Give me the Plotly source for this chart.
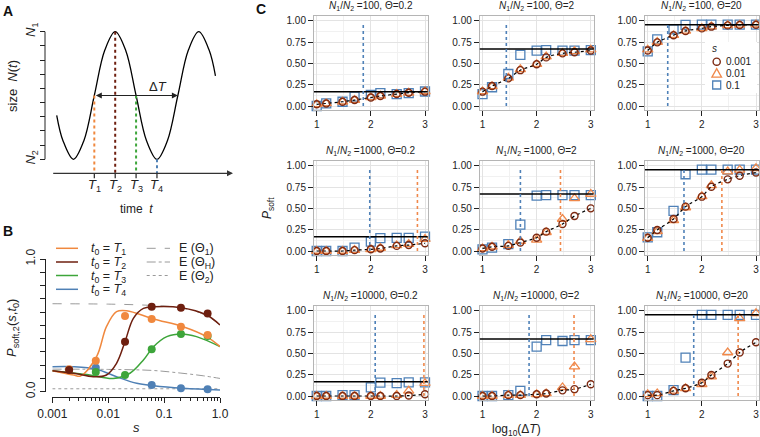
import plotly.graph_objects as go

W, H = 760, 437
FONT = "Liberation Sans, Arial, sans-serif"


def fx(px):
    return px / W


def fy(py):
    return 1 - py / H


# ---------------- colours ----------------
ORANGE = "#F0883E"
DARKRED = "#6E1F0F"
GREEN = "#3DA53A"
BLUE = "#4F80B5"
C_CIRC = "#7E2A12"
C_TRI = "#F0884A"
C_SQ = "#4F81B8"

# ---------------- Panel A data (schematic) ----------------
a_time = [-0.8, -0.5, 0, 0.5, 1, 1.5, 2, 2.5, 3, 3.5, 4, 4.5, 5, 5.5, 6, 6.5, 6.8]
a_size = [0.345, 0.146, 0.0, 0.146, 0.5, 0.854, 1.0, 0.854, 0.5, 0.146, 0.0, 0.146,
          0.5, 0.854, 1.0, 0.854, 0.654]
a_T_time = [1, 2, 3, 4]
a_T_size = [0.5, 1.0, 0.5, 0.0]
a_T_labels = ["<i>T</i><sub>1</sub>", "<i>T</i><sub>2</sub>",
              "<i>T</i><sub>3</sub>", "<i>T</i><sub>4</sub>"]
a_T_colors = [ORANGE, DARKRED, GREEN, BLUE]
a_dT_start, a_dT_end, a_dT_level = 1, 5, 0.5
a_axis_level = -0.11

# ---------------- Panel B data ----------------
b_pts_s = [0.002, 0.006, 0.02, 0.06, 0.2, 0.6]
b_pts_T1 = [0.169, 0.234, 0.57, 0.548, 0.49, 0.427]
b_pts_T2 = [0.164, None, 0.377, 0.64, 0.633, 0.59]
b_pts_T3 = [None, 0.148, 0.126, 0.32, 0.435, 0.42]
b_pts_T4 = [None, 0.18, None, 0.05, 0.026, 0.018]

b_T1_s = [0.001, 0.0024, 0.0032, 0.0062, 0.0093, 0.0141, 0.0214, 0.0646, 0.219, 0.575, 1.0]
b_T1_v = [0.158, 0.126, 0.118, 0.264, 0.49, 0.603, 0.61, 0.548, 0.49, 0.415, 0.34]
b_T2_s = [0.001, 0.0024, 0.0054, 0.0093, 0.0141, 0.02, 0.0282, 0.0427, 0.0646, 0.204, 0.575, 1.0]
b_T2_v = [0.158, 0.139, 0.113, 0.126, 0.214, 0.377, 0.553, 0.628, 0.64, 0.633, 0.578, 0.503]
b_T3_s = [0.001, 0.0047, 0.0123, 0.0245, 0.0427, 0.0646, 0.112, 0.204, 0.38, 1.0]
b_T3_v = [0.158, 0.126, 0.10, 0.139, 0.239, 0.339, 0.415, 0.435, 0.415, 0.34]
b_T4_s = [0.001, 0.0024, 0.0062, 0.0141, 0.0324, 0.0646, 0.219, 1.0]
b_T4_v = [0.188, 0.188, 0.169, 0.113, 0.063, 0.045, 0.026, 0.013]

b_E1_s = [0.001, 0.01, 0.0316, 0.1, 0.2, 0.5, 1.0]
b_E1_v = [0.663, 0.66, 0.655, 0.645, 0.633, 0.585, 0.505]
b_EH_s = [0.001, 0.01, 0.063, 0.2, 0.5, 1.0]
b_EH_v = [0.17, 0.168, 0.16, 0.14, 0.12, 0.10]
b_E2_s = [0.001, 1.0]
b_E2_v = [0.022, 0.022]

# ---------------- Panel C data ----------------
c_logdT = [1, 1.176, 1.477, 1.699, 2, 2.176, 2.477, 2.699, 3]
c_ratio = ["100", "1000", "10000"]
c_theta = ["0.2", "2", "20"]
c_expected = [0.167, 0.667, 0.952]

# rows: N1/N2 = 100, 1000, 10000 ; cols: Theta = 0.2, 2, 20
c_s0001 = [
    [0.02, 0.03, 0.05, 0.07, 0.10, 0.117, 0.14, 0.156, 0.168],
    [0.168, 0.234, 0.324, 0.42, 0.49, 0.57, 0.617, 0.63, 0.65],
    [0.65, 0.746, 0.83, 0.88, 0.91, 0.93, 0.945, 0.95, 0.953],
    [0.0, 0.0, 0.0, 0.01, 0.02, 0.03, 0.06, 0.07, 0.09],
    [0.03, 0.05, 0.06, 0.10, 0.156, 0.227, 0.316, 0.41, 0.50],
    [0.156, 0.246, 0.375, 0.52, 0.637, 0.754, 0.84, 0.883, 0.92],
    [0.0, 0.0, 0.0, 0.0, 0.0, 0.0, 0.0, 0.005, 0.02],
    [0.0, 0.0, 0.01, 0.01, 0.02, 0.03, 0.066, 0.08, 0.137],
    [0.01, 0.01, 0.06, 0.09, 0.156, 0.246, 0.38, 0.51, 0.63],
]
c_s001 = [
    [0.02, 0.03, 0.05, 0.07, 0.10, 0.12, 0.14, 0.155, 0.17],
    [0.17, 0.23, 0.33, 0.43, 0.49, 0.58, 0.62, 0.64, 0.66],
    [0.66, 0.75, 0.83, 0.88, 0.91, 0.93, 0.945, 0.95, 0.955],
    [0.0, 0.0, 0.0, 0.01, 0.02, 0.035, 0.065, 0.08, 0.14],
    [0.03, 0.05, 0.07, 0.117, 0.13, 0.22, 0.375, 0.617, 0.668],
    [0.15, 0.23, 0.36, 0.51, 0.64, 0.77, 0.93, 0.95, 0.97],
    [0.0, 0.0, 0.0, 0.0, 0.0, 0.0, 0.01, 0.06, 0.15],
    [0.0, 0.0, 0.01, 0.01, 0.02, 0.03, 0.10, 0.344, 0.664],
    [0.02, 0.03, 0.06, 0.09, 0.137, 0.227, 0.51, 0.91, 0.97],
]
c_s01 = [
    [0.0, 0.03, 0.05, 0.11, 0.13, 0.15, 0.14, 0.15, 0.17],
    [0.14, 0.22, 0.375, 0.60, 0.65, 0.656, 0.65, 0.65, 0.656],
    [0.64, 0.78, 0.90, 0.95, 0.953, 0.953, 0.953, 0.953, 0.953],
    [0.0, 0.0, 0.0, 0.04, 0.11, 0.15, 0.155, 0.155, 0.168],
    [0.02, 0.04, 0.08, 0.31, 0.65, 0.656, 0.656, 0.656, 0.656],
    [0.16, 0.22, 0.47, 0.90, 0.953, 0.953, 0.953, 0.953, 0.953],
    [0.0, 0.0, 0.01, 0.01, 0.10, 0.156, 0.15, 0.16, 0.16],
    [0.0, 0.0, 0.01, 0.06, 0.578, 0.656, 0.645, 0.656, 0.656],
    [0.0, 0.0, 0.07, 0.45, 0.95, 0.95, 0.95, 0.95, 0.95],
]
c_vline_blue = [1.86, 1.44, 1.37, 1.98, 1.70, 1.67, 2.08, 1.86, 1.85]
c_vline_orange = [None, None, None, 2.86, 2.44, 2.37, 2.98, 2.69, 2.67]
c_vline_top = 0.97
c_legend_labels = ["0.001", "0.01", "0.1"]

# ---------------- figure ----------------
fig = go.Figure()
shapes = []
annotations = []
layout = {}

# ===== Panel A =====
a_xrange = [-1.04, 7.64]
a_yrange = [-0.2, 1.03]
a_y0px = 159.3
a_py_unit = 127.6
layout["xaxis"] = dict(domain=[fx(51.7), fx(233.0)], range=a_xrange, visible=False,
                       anchor="y", automargin=False)
layout["yaxis"] = dict(domain=[fy(a_y0px - a_yrange[0] * a_py_unit), fy(a_y0px - a_yrange[1] * a_py_unit)],
                       range=a_yrange, anchor="free", position=fx(45), automargin=False,
                       showline=False, showgrid=False, zeroline=False,
                       ticks="outside", ticklen=5, tickcolor="#222", tickwidth=1,
                       tickvals=[0, 1],
                       ticktext=["<i>N</i><sub>2</sub>", "<i>N</i><sub>1</sub>"],
                       tickangle=-90, tickfont=dict(size=13, color="#222", family=FONT),
                       minor=dict(tickvals=[i / 9 for i in range(1, 9)], ticks="outside",
                                  ticklen=5, tickcolor="#222", tickwidth=1, showgrid=False))
shapes.append(dict(type="line", xref="paper", yref="y", x0=fx(45), x1=fx(45), y0=0, y1=1,
                   line=dict(color="#222", width=1)))
fig.add_trace(go.Scatter(x=a_time, y=a_size, mode="lines", xaxis="x", yaxis="y",
                         line=dict(color="black", width=1.3, shape="spline", smoothing=1.0),
                         showlegend=False, hoverinfo="skip"))
for t, v, col in zip(a_T_time, a_T_size, a_T_colors):
    fig.add_trace(go.Scatter(x=[t, t], y=[v, a_axis_level], mode="lines", xaxis="x", yaxis="y",
                             line=dict(color=col, width=2, dash="dot"),
                             showlegend=False, hoverinfo="skip"))
    shapes.append(dict(type="line", xref="x", yref="y", x0=t, x1=t,
                       y0=a_axis_level, y1=a_axis_level - 5 / a_py_unit,
                       line=dict(color="#222", width=1.2)))
for t, lab in zip(a_T_time, a_T_labels):
    annotations.append(dict(x=t, y=fy(185), xref="x", yref="paper", text=lab, showarrow=False,
                            font=dict(size=13, color="#222", family=FONT)))
annotations.append(dict(x=a_xrange[1], y=a_axis_level, ax=a_xrange[0], ay=a_axis_level,
                        xref="x", yref="y", axref="x", ayref="y", text="", showarrow=True,
                        arrowhead=2, arrowsize=1, arrowwidth=1.2, arrowcolor="#333"))
annotations.append(dict(x=a_dT_end, y=a_dT_level, ax=a_dT_start, ay=a_dT_level,
                        xref="x", yref="y", axref="x", ayref="y", text="", showarrow=True,
                        arrowhead=2, arrowsize=1, arrowwidth=1.2, arrowcolor="#222",
                        arrowside="end+start"))
annotations.append(dict(x=4.05, y=0.57, xref="x", yref="y", text="Δ<i>T</i>", showarrow=False,
                        font=dict(size=13, color="#222", family=FONT)))
annotations.append(dict(x=fx(136.7), y=fy(208.5), xref="paper", yref="paper",
                        text="time  <i>t</i>", showarrow=False,
                        font=dict(size=12, color="#222", family=FONT)))
annotations.append(dict(x=fx(12), y=fy(86), xref="paper", yref="paper",
                        text="size  <i>N</i>(<i>t</i>)", showarrow=False, textangle=-90,
                        font=dict(size=13, color="#222", family=FONT)))

# ===== Panel B =====
b_minor = [m * 10 ** e for e in (-3, -2, -1) for m in range(2, 10)]
layout["xaxis2"] = dict(domain=[fx(52.3), fx(220.0)], type="log", range=[-3, 0],
                        anchor="free", position=fy(397.3), automargin=False,
                        showline=True, linecolor="#222",
                        linewidth=1, showgrid=False, zeroline=False, ticks="outside",
                        ticklen=5, tickcolor="#222",
                        tickvals=[0.001, 0.01, 0.1, 1.0], ticktext=["0.001", "0.01", "0.1", "1.0"],
                        tickfont=dict(size=12, color="#222", family=FONT),
                        minor=dict(tickvals=b_minor, ticks="outside", ticklen=3, tickcolor="#222",
                                   showgrid=False))
layout["yaxis2"] = dict(domain=[fy(391.7), fy(259.0)], range=[0, 1], anchor="free",
                        position=fx(45), automargin=False,
                        showline=True, linecolor="#222", linewidth=1,
                        showgrid=False, zeroline=False, ticks="outside", ticklen=5,
                        tickcolor="#222", tickvals=[0, 1],
                        ticktext=["0.0", "1.0"], tickangle=-90,
                        tickfont=dict(size=12, color="#222", family=FONT),
                        minor=dict(tickvals=[i / 10 for i in range(1, 10)], ticks="outside",
                                   ticklen=5, tickcolor="#222", showgrid=False))

for xs, ys, dash in [(b_E1_s, b_E1_v, "dash"), (b_EH_s, b_EH_v, "dashdot"), (b_E2_s, b_E2_v, "dot")]:
    fig.add_trace(go.Scatter(x=xs, y=ys, mode="lines", xaxis="x2", yaxis="y2",
                             line=dict(color="#9A9A9A", width=1, dash=dash, shape="spline"),
                             showlegend=False, hoverinfo="skip"))
for xs, ys, col in [(b_T4_s, b_T4_v, BLUE), (b_T3_s, b_T3_v, GREEN),
                    (b_T1_s, b_T1_v, ORANGE), (b_T2_s, b_T2_v, DARKRED)]:
    fig.add_trace(go.Scatter(x=xs, y=ys, mode="lines", xaxis="x2", yaxis="y2",
                             line=dict(color=col, width=1.5, shape="spline", smoothing=1.0),
                             showlegend=False, hoverinfo="skip"))
for ys, col in [(b_pts_T4, BLUE), (b_pts_T3, GREEN), (b_pts_T1, ORANGE), (b_pts_T2, DARKRED)]:
    fig.add_trace(go.Scatter(x=b_pts_s, y=ys, mode="markers", xaxis="x2", yaxis="y2",
                             marker=dict(color=col, size=8), cliponaxis=False,
                             showlegend=False, hoverinfo="skip"))

annotations.append(dict(x=fx(12), y=fy(328), xref="paper", yref="paper",
                        text="<i>P</i><sub>soft,2</sub>(<i>s</i>,<i>t</i><sub>0</sub>)",
                        showarrow=False, textangle=-90,
                        font=dict(size=13, color="#222", family=FONT)))
annotations.append(dict(x=fx(136), y=fy(427), xref="paper", yref="paper", text="<i>s</i>",
                        showarrow=False, font=dict(size=13, color="#222", family=FONT)))
b_leg_y = [248.3, 262.0, 275.5, 289.3]
b_leg_lab = ["<i>t</i><sub>0</sub> = <i>T</i><sub>1</sub>", "<i>t</i><sub>0</sub> = <i>T</i><sub>2</sub>",
             "<i>t</i><sub>0</sub> = <i>T</i><sub>3</sub>", "<i>t</i><sub>0</sub> = <i>T</i><sub>4</sub>"]
for yy, col, lab in zip(b_leg_y, [ORANGE, DARKRED, GREEN, BLUE], b_leg_lab):
    shapes.append(dict(type="line", xref="paper", yref="paper", x0=fx(56), x1=fx(78),
                       y0=fy(yy), y1=fy(yy), line=dict(color=col, width=1.5)))
    annotations.append(dict(x=fx(89), y=fy(yy + 1), xref="paper", yref="paper", text=lab,
                            showarrow=False, xanchor="left", yanchor="middle",
                            font=dict(size=12.5, color="#222", family=FONT)))
for yy, dash, lab in zip(b_leg_y[:3], ["dash", "dashdot", "dot"],
                         ["E (Θ<sub>1</sub>)", "E (Θ<sub>H</sub>)", "E (Θ<sub>2</sub>)"]):
    shapes.append(dict(type="line", xref="paper", yref="paper", x0=fx(146.7), x1=fx(170),
                       y0=fy(yy), y1=fy(yy), line=dict(color="#9A9A9A", width=1, dash=dash)))
    annotations.append(dict(x=fx(177), y=fy(yy + 1), xref="paper", yref="paper", text=lab,
                            showarrow=False, xanchor="left", yanchor="middle",
                            font=dict(size=12.5, color="#222", family=FONT)))

# ===== Panel C =====
col_x1 = [316.7, 482.5, 647.7]
row_y0 = [106.0, 251.0, 396.0]
ux, uy = 54.15, 85.3
for r in range(3):
    for c in range(3):
        i = r * 3 + c
        k = 3 + i
        xa, ya = f"x{k}", f"y{k}"
        left = col_x1[c] - 0.05 * ux
        right = col_x1[c] + 2.05 * ux
        bottom = row_y0[r] + 0.05 * uy
        top = row_y0[r] - 1.06 * uy
        layout[f"xaxis{k}"] = dict(domain=[fx(left), fx(right)], range=[0.95, 3.05], anchor=ya,
                                   automargin=False,
                                   showline=True, linecolor="#B5B5B5", linewidth=1, mirror=True,
                                   showgrid=True, gridcolor="#E3E3E3", gridwidth=1, zeroline=False,
                                   ticks="outside", ticklen=5, tickcolor="#222", tickwidth=1,
                                   tickvals=[1, 2, 3],
                                   tickfont=dict(size=10, color="#222", family=FONT),
                                   minor=dict(tickvals=[1.5, 2.5], showgrid=True,
                                              gridcolor="#F1F1F1", gridwidth=1))
        layout[f"yaxis{k}"] = dict(domain=[fy(bottom), fy(top)], range=[-0.05, 1.06], anchor=xa,
                                   automargin=False,
                                   showline=True, linecolor="#B5B5B5", linewidth=1, mirror=True,
                                   showgrid=True, gridcolor="#E3E3E3", gridwidth=1, zeroline=False,
                                   ticks="outside", ticklen=5, tickcolor="#222", tickwidth=1,
                                   tickvals=[0, 0.25, 0.5, 0.75, 1.0],
                                   ticktext=["0.00", "0.25", "0.50", "0.75", "1.00"],
                                   tickfont=dict(size=10, color="#222", family=FONT),
                                   minor=dict(tickvals=[0.125, 0.375, 0.625, 0.875], showgrid=True,
                                              gridcolor="#F1F1F1", gridwidth=1))
        shapes.append(dict(type="line", xref=f"{xa} domain", yref=ya, x0=0, x1=1,
                           y0=c_expected[c], y1=c_expected[c], line=dict(color="black", width=1.5)))
        for xv, col in [(c_vline_blue[i], C_SQ), (c_vline_orange[i], C_TRI)]:
            if xv is not None:
                shapes.append(dict(type="line", xref=xa, yref=ya, x0=xv, x1=xv, y0=0,
                                   y1=c_vline_top, line=dict(color=col, width=1.6, dash="dot")))
        fig.add_trace(go.Scatter(x=c_logdT, y=c_s01[i], mode="markers", xaxis=xa, yaxis=ya,
                                 marker=dict(symbol="square-open", size=9, color=C_SQ,
                                             line=dict(width=1.3)),
                                 cliponaxis=False, showlegend=False, hoverinfo="skip"))
        fig.add_trace(go.Scatter(x=c_logdT, y=c_s001[i], mode="markers", xaxis=xa, yaxis=ya,
                                 marker=dict(symbol="triangle-up-open", size=9, color=C_TRI,
                                             line=dict(width=1.3)),
                                 cliponaxis=False, showlegend=False, hoverinfo="skip"))
        fig.add_trace(go.Scatter(x=c_logdT, y=c_s0001[i], mode="lines", xaxis=xa, yaxis=ya,
                                 line=dict(color="black", width=1.2, dash="3px,3px",
                                           shape="spline", smoothing=0.8),
                                 showlegend=False, hoverinfo="skip"))
        fig.add_trace(go.Scatter(x=c_logdT, y=c_s0001[i], mode="markers", xaxis=xa, yaxis=ya,
                                 marker=dict(symbol="circle-open", size=7, color=C_CIRC,
                                             line=dict(width=1.4)),
                                 cliponaxis=False, showlegend=False, hoverinfo="skip"))
        annotations.append(dict(x=(fx(left) + fx(right)) / 2, y=fy(top - 9.5), xref="paper",
                                yref="paper", showarrow=False,
                                text=f"<i>N</i><sub>1</sub>/<i>N</i><sub>2</sub> ={c_ratio[r]}, Θ={c_theta[c]}",
                                font=dict(size=10, color="#222", family=FONT)))

annotations.append(dict(x=fx(268), y=fy(208), xref="paper", yref="paper",
                        text="<i>P</i><sub>soft</sub>", showarrow=False, textangle=-90,
                        font=dict(size=12, color="#222", family=FONT)))
annotations.append(dict(x=fx(516), y=fy(430), xref="paper", yref="paper",
                        text="log<sub>10</sub>(Δ<i>T</i>)", showarrow=False,
                        font=dict(size=12, color="#222", family=FONT)))

shapes.append(dict(type="rect", xref="paper", yref="paper", x0=fx(705), x1=fx(757),
                   y0=fy(93), y1=fy(42), fillcolor="white", line=dict(width=0)))
annotations.append(dict(x=fx(714), y=fy(48.5), xref="paper", yref="paper", text="<i>s</i>",
                        showarrow=False, font=dict(size=10, color="#222", family=FONT)))
cx = 716.7
shapes.append(dict(type="circle", xref="paper", yref="paper", x0=fx(cx - 3.6), x1=fx(cx + 3.6),
                   y0=fy(61.7 + 3.6), y1=fy(61.7 - 3.6), line=dict(color=C_CIRC, width=1.4)))
shapes.append(dict(type="path", xref="paper", yref="paper",
                   path=f"M {fx(cx)},{fy(68.6)} L {fx(cx - 4.8)},{fy(77.2)} L {fx(cx + 4.8)},{fy(77.2)} Z",
                   line=dict(color=C_TRI, width=1.3)))
shapes.append(dict(type="rect", xref="paper", yref="paper", x0=fx(cx - 4), x1=fx(cx + 4),
                   y0=fy(89), y1=fy(81), line=dict(color=C_SQ, width=1.3)))
for yy, lab in zip([61.7, 73.3, 85.0], c_legend_labels):
    annotations.append(dict(x=fx(724), y=fy(yy), xref="paper", yref="paper", text=lab,
                            showarrow=False, xanchor="left", yanchor="middle",
                            font=dict(size=10, color="#222", family=FONT)))

for lab, x, y in [("A", 8, 11), ("B", 8, 231), ("C", 261, 9)]:
    annotations.append(dict(x=fx(x), y=fy(y), xref="paper", yref="paper", text=f"<b>{lab}</b>",
                            showarrow=False, font=dict(size=14, color="#111", family=FONT)))

# explicit centring for every text annotation
for a in annotations:
    a.setdefault("xanchor", "center")
    a.setdefault("yanchor", "middle")

fig.update_layout(template="none", width=W, height=H, margin=dict(l=0, r=0, t=0, b=0, pad=0),
                  paper_bgcolor="white", plot_bgcolor="white", showlegend=False,
                  font=dict(family=FONT, color="#222"),
                  shapes=shapes, annotations=annotations, **layout)
fig.write_html("out.html", config={"displayModeBar": False},
               post_script="document.body.style.margin='0';document.body.style.padding='0';"
                           "document.body.style.overflow='hidden';")
